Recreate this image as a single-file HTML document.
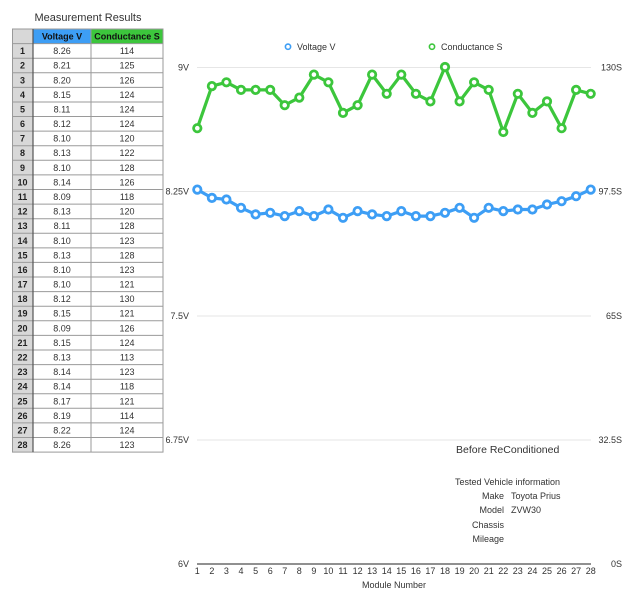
<!DOCTYPE html>
<html><head><meta charset="utf-8"><style>
html,body{margin:0;padding:0;background:#fff;}
svg{display:block;font-family:"Liberation Sans",sans-serif;}
</style></head><body>
<svg width="633" height="599" viewBox="0 0 633 599" xmlns="http://www.w3.org/2000/svg">
<rect width="633" height="599" fill="#fff"/>
<!-- Table title -->
<text x="88" y="21" font-size="11" fill="#333" text-anchor="middle">Measurement Results</text>
<!-- Table backgrounds -->
<rect x="12" y="29" width="21" height="423.1" fill="#d8d8d8"/>
<rect x="33" y="29" width="58" height="14.6" fill="#3d9ef5"/>
<rect x="91" y="29" width="72" height="14.6" fill="#3cc63c"/>
<g stroke="#9a9a9a" stroke-width="1" fill="none">
<rect x="12.5" y="29" width="150.5" height="423.1"/>
<line x1="91" y1="29" x2="91" y2="452.1"/>
<path d="M12 43.6H163M12 58.2H163M12 72.8H163M12 87.4H163M12 102H163M12 116.5H163M12 131.1H163M12 145.7H163M12 160.3H163M12 174.9H163M12 189.5H163M12 204.1H163M12 218.7H163M12 233.3H163M12 247.9H163M12 262.4H163M12 277H163M12 291.6H163M12 306.2H163M12 320.8H163M12 335.4H163M12 350H163M12 364.6H163M12 379.2H163M12 393.8H163M12 408.3H163M12 422.9H163M12 437.5H163"/>
</g>
<line x1="33" y1="29" x2="33" y2="452.1" stroke="#555" stroke-width="1.2"/>
<g font-size="9" fill="#111" font-weight="bold" text-anchor="middle">
<text x="62" y="39.5">Voltage V</text>
<text x="127" y="39.5">Conductance S</text>
</g>
<g font-size="9" fill="#222" font-weight="bold" text-anchor="middle">
<text x="22.5" y="54.1">1</text><text x="22.5" y="68.7">2</text><text x="22.5" y="83.3">3</text><text x="22.5" y="97.9">4</text><text x="22.5" y="112.5">5</text><text x="22.5" y="127">6</text><text x="22.5" y="141.6">7</text><text x="22.5" y="156.2">8</text><text x="22.5" y="170.8">9</text><text x="22.5" y="185.4">10</text><text x="22.5" y="200">11</text><text x="22.5" y="214.6">12</text><text x="22.5" y="229.2">13</text><text x="22.5" y="243.8">14</text><text x="22.5" y="258.4">15</text><text x="22.5" y="272.9">16</text><text x="22.5" y="287.5">17</text><text x="22.5" y="302.1">18</text><text x="22.5" y="316.7">19</text><text x="22.5" y="331.3">20</text><text x="22.5" y="345.9">21</text><text x="22.5" y="360.5">22</text><text x="22.5" y="375.1">23</text><text x="22.5" y="389.7">24</text><text x="22.5" y="404.3">25</text><text x="22.5" y="418.8">26</text><text x="22.5" y="433.4">27</text><text x="22.5" y="448">28</text>
</g>
<g font-size="9" fill="#333" text-anchor="middle">
<text x="62" y="54.1">8.26</text><text x="62" y="68.7">8.21</text><text x="62" y="83.3">8.20</text><text x="62" y="97.9">8.15</text><text x="62" y="112.5">8.11</text><text x="62" y="127">8.12</text><text x="62" y="141.6">8.10</text><text x="62" y="156.2">8.13</text><text x="62" y="170.8">8.10</text><text x="62" y="185.4">8.14</text><text x="62" y="200">8.09</text><text x="62" y="214.6">8.13</text><text x="62" y="229.2">8.11</text><text x="62" y="243.8">8.10</text><text x="62" y="258.4">8.13</text><text x="62" y="272.9">8.10</text><text x="62" y="287.5">8.10</text><text x="62" y="302.1">8.12</text><text x="62" y="316.7">8.15</text><text x="62" y="331.3">8.09</text><text x="62" y="345.9">8.15</text><text x="62" y="360.5">8.13</text><text x="62" y="375.1">8.14</text><text x="62" y="389.7">8.14</text><text x="62" y="404.3">8.17</text><text x="62" y="418.8">8.19</text><text x="62" y="433.4">8.22</text><text x="62" y="448">8.26</text>
<text x="127" y="54.1">114</text><text x="127" y="68.7">125</text><text x="127" y="83.3">126</text><text x="127" y="97.9">124</text><text x="127" y="112.5">124</text><text x="127" y="127">124</text><text x="127" y="141.6">120</text><text x="127" y="156.2">122</text><text x="127" y="170.8">128</text><text x="127" y="185.4">126</text><text x="127" y="200">118</text><text x="127" y="214.6">120</text><text x="127" y="229.2">128</text><text x="127" y="243.8">123</text><text x="127" y="258.4">128</text><text x="127" y="272.9">123</text><text x="127" y="287.5">121</text><text x="127" y="302.1">130</text><text x="127" y="316.7">121</text><text x="127" y="331.3">126</text><text x="127" y="345.9">124</text><text x="127" y="360.5">113</text><text x="127" y="375.1">123</text><text x="127" y="389.7">118</text><text x="127" y="404.3">121</text><text x="127" y="418.8">114</text><text x="127" y="433.4">124</text><text x="127" y="448">123</text>
</g>

<!-- Legend -->
<circle cx="288" cy="46.7" r="2.6" fill="#fff" stroke="#3d9ef5" stroke-width="1.6"/>
<text x="297" y="50" font-size="9" fill="#333">Voltage V</text>
<circle cx="432" cy="46.7" r="2.6" fill="#fff" stroke="#3cc63c" stroke-width="1.6"/>
<text x="441" y="50" font-size="9" fill="#333">Conductance S</text>

<!-- Gridlines -->
<g stroke="#e6e6e6" stroke-width="1">
<line x1="197" y1="67.5" x2="591" y2="67.5"/>
<line x1="197" y1="191.5" x2="591" y2="191.5"/>
<line x1="197" y1="316" x2="591" y2="316"/>
<line x1="197" y1="440" x2="591" y2="440"/>
</g>
<line x1="197" y1="564" x2="591" y2="564" stroke="#222" stroke-width="1"/>

<!-- Axis labels -->
<g font-size="9" fill="#333" text-anchor="end">
<text x="189" y="70.5">9V</text>
<text x="189" y="194.5">8.25V</text>
<text x="189" y="319">7.5V</text>
<text x="189" y="443">6.75V</text>
<text x="189" y="567">6V</text>
<text x="622" y="70.5">130S</text>
<text x="622" y="194.5">97.5S</text>
<text x="622" y="319">65S</text>
<text x="622" y="443">32.5S</text>
<text x="622" y="567">0S</text>
</g>
<g font-size="9" fill="#333" text-anchor="middle">
<text x="197.3" y="574">1</text><text x="211.9" y="574">2</text><text x="226.4" y="574">3</text><text x="241" y="574">4</text><text x="255.6" y="574">5</text><text x="270.2" y="574">6</text><text x="284.7" y="574">7</text><text x="299.3" y="574">8</text><text x="313.9" y="574">9</text><text x="328.4" y="574">10</text><text x="343" y="574">11</text><text x="357.6" y="574">12</text><text x="372.1" y="574">13</text><text x="386.7" y="574">14</text><text x="401.3" y="574">15</text><text x="415.9" y="574">16</text><text x="430.4" y="574">17</text><text x="445" y="574">18</text><text x="459.6" y="574">19</text><text x="474.1" y="574">20</text><text x="488.7" y="574">21</text><text x="503.3" y="574">22</text><text x="517.8" y="574">23</text><text x="532.4" y="574">24</text><text x="547" y="574">25</text><text x="561.6" y="574">26</text><text x="576.1" y="574">27</text><text x="590.7" y="574">28</text>
<text x="394" y="588">Module Number</text>
</g>

<!-- Info text -->
<text x="456" y="453" font-size="10.5" fill="#333">Before ReConditioned</text>
<g font-size="9" fill="#333">
<text x="455" y="485">Tested Vehicle information</text>
<text x="504" y="499" text-anchor="end">Make</text><text x="511" y="499">Toyota Prius</text>
<text x="504" y="513" text-anchor="end">Model</text><text x="511" y="513">ZVW30</text>
<text x="504" y="528" text-anchor="end">Chassis</text>
<text x="504" y="542" text-anchor="end">Mileage</text>
</g>

<!-- Conductance series -->
<polyline fill="none" stroke="#3cc63c" stroke-width="3.2" stroke-linejoin="round" points="197.3,128.2 211.9,86.1 226.4,82.3 241,89.9 255.6,89.9 270.2,89.9 284.7,105.2 299.3,97.6 313.9,74.6 328.4,82.3 343,112.9 357.6,105.2 372.1,74.6 386.7,93.8 401.3,74.6 415.9,93.8 430.4,101.4 445,67 459.6,101.4 474.1,82.3 488.7,89.9 503.3,132 517.8,93.8 532.4,112.9 547,101.4 561.6,128.2 576.1,89.9 590.7,93.8"/>
<g fill="#fff" stroke="#3cc63c" stroke-width="2.8">
<circle cx="197.3" cy="128.2" r="3.7"/><circle cx="211.9" cy="86.1" r="3.7"/><circle cx="226.4" cy="82.3" r="3.7"/><circle cx="241" cy="89.9" r="3.7"/><circle cx="255.6" cy="89.9" r="3.7"/><circle cx="270.2" cy="89.9" r="3.7"/><circle cx="284.7" cy="105.2" r="3.7"/><circle cx="299.3" cy="97.6" r="3.7"/><circle cx="313.9" cy="74.6" r="3.7"/><circle cx="328.4" cy="82.3" r="3.7"/><circle cx="343" cy="112.9" r="3.7"/><circle cx="357.6" cy="105.2" r="3.7"/><circle cx="372.1" cy="74.6" r="3.7"/><circle cx="386.7" cy="93.8" r="3.7"/><circle cx="401.3" cy="74.6" r="3.7"/><circle cx="415.9" cy="93.8" r="3.7"/><circle cx="430.4" cy="101.4" r="3.7"/><circle cx="445" cy="67" r="3.7"/><circle cx="459.6" cy="101.4" r="3.7"/><circle cx="474.1" cy="82.3" r="3.7"/><circle cx="488.7" cy="89.9" r="3.7"/><circle cx="503.3" cy="132" r="3.7"/><circle cx="517.8" cy="93.8" r="3.7"/><circle cx="532.4" cy="112.9" r="3.7"/><circle cx="547" cy="101.4" r="3.7"/><circle cx="561.6" cy="128.2" r="3.7"/><circle cx="576.1" cy="89.9" r="3.7"/><circle cx="590.7" cy="93.8" r="3.7"/>
</g>

<!-- Voltage series -->
<polyline fill="none" stroke="#3d9ef5" stroke-width="3.2" stroke-linejoin="round" points="197.3,189.6 211.9,197.9 226.4,199.5 241,207.8 255.6,214.4 270.2,212.8 284.7,216.1 299.3,211.1 313.9,216.1 328.4,209.5 343,217.8 357.6,211.1 372.1,214.4 386.7,216.1 401.3,211.1 415.9,216.1 430.4,216.1 445,212.8 459.6,207.8 474.1,217.8 488.7,207.8 503.3,211.1 517.8,209.5 532.4,209.5 547,204.5 561.6,201.2 576.1,196.2 590.7,189.6"/>
<g fill="#fff" stroke="#3d9ef5" stroke-width="2.8">
<circle cx="197.3" cy="189.6" r="3.7"/><circle cx="211.9" cy="197.9" r="3.7"/><circle cx="226.4" cy="199.5" r="3.7"/><circle cx="241" cy="207.8" r="3.7"/><circle cx="255.6" cy="214.4" r="3.7"/><circle cx="270.2" cy="212.8" r="3.7"/><circle cx="284.7" cy="216.1" r="3.7"/><circle cx="299.3" cy="211.1" r="3.7"/><circle cx="313.9" cy="216.1" r="3.7"/><circle cx="328.4" cy="209.5" r="3.7"/><circle cx="343" cy="217.8" r="3.7"/><circle cx="357.6" cy="211.1" r="3.7"/><circle cx="372.1" cy="214.4" r="3.7"/><circle cx="386.7" cy="216.1" r="3.7"/><circle cx="401.3" cy="211.1" r="3.7"/><circle cx="415.9" cy="216.1" r="3.7"/><circle cx="430.4" cy="216.1" r="3.7"/><circle cx="445" cy="212.8" r="3.7"/><circle cx="459.6" cy="207.8" r="3.7"/><circle cx="474.1" cy="217.8" r="3.7"/><circle cx="488.7" cy="207.8" r="3.7"/><circle cx="503.3" cy="211.1" r="3.7"/><circle cx="517.8" cy="209.5" r="3.7"/><circle cx="532.4" cy="209.5" r="3.7"/><circle cx="547" cy="204.5" r="3.7"/><circle cx="561.6" cy="201.2" r="3.7"/><circle cx="576.1" cy="196.2" r="3.7"/><circle cx="590.7" cy="189.6" r="3.7"/>
</g>
</svg>
</body></html>
